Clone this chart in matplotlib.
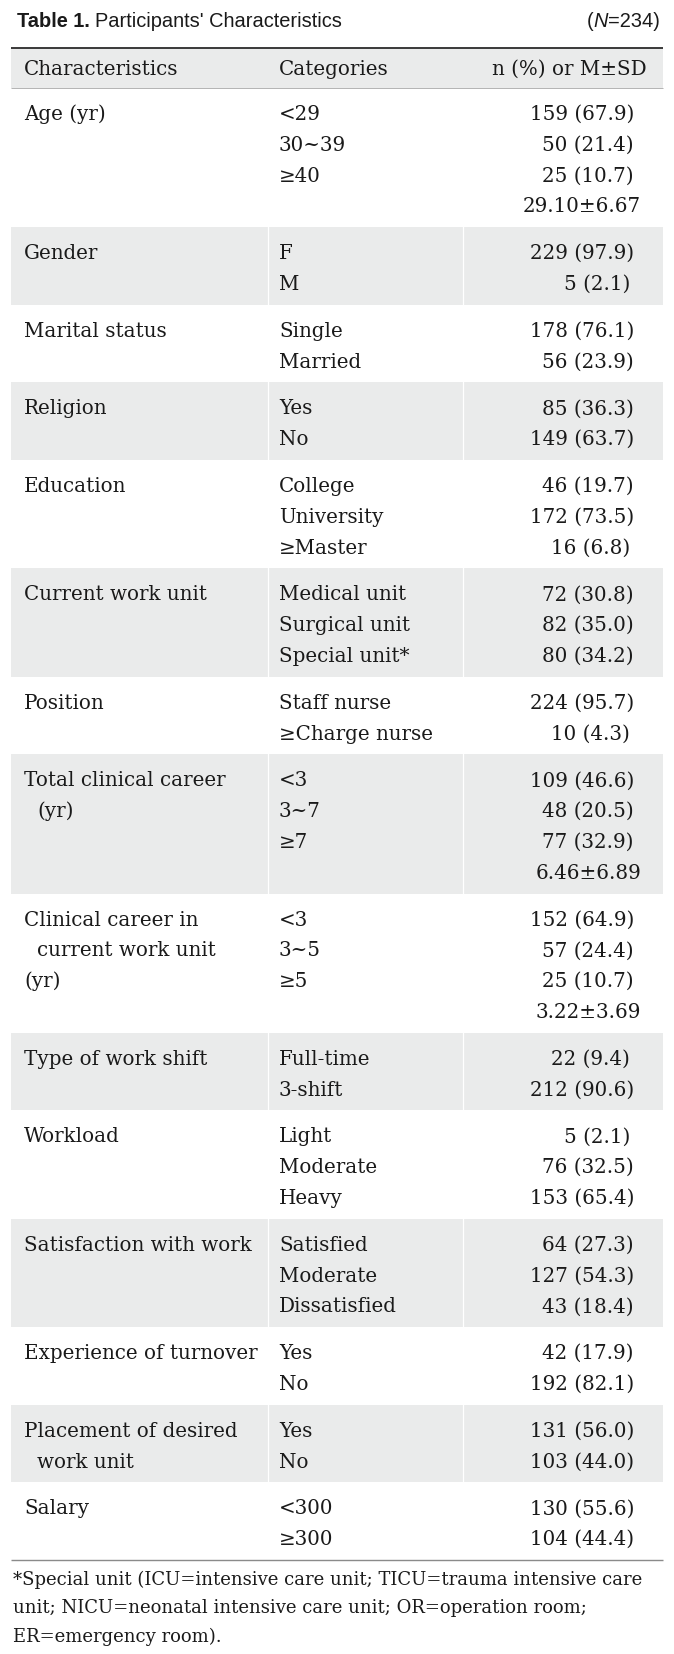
import matplotlib
matplotlib.use("Agg")
import matplotlib.pyplot as plt
from matplotlib import font_manager as fm

# ---------------- data ----------------
title_bold = "Table 1."
title_text = "Participants' Characteristics"
sample_size = "234"
headers = ["Characteristics", "Categories", "n (%) or M\u00b1SD"]

characteristics = [
    ["Age (yr)"], ["Gender"], ["Marital status"], ["Religion"], ["Education"],
    ["Current work unit"], ["Position"], ["Total clinical career", "(yr)"],
    ["Clinical career in", "current work unit", "(yr)"], ["Type of work shift"],
    ["Workload"], ["Satisfaction with work"], ["Experience of turnover"],
    ["Placement of desired", "work unit"], ["Salary"],
]
categories = [
    ["<29", "30~39", "\u226540"],
    ["F", "M"],
    ["Single", "Married"],
    ["Yes", "No"],
    ["College", "University", "\u2265Master"],
    ["Medical unit", "Surgical unit", "Special unit*"],
    ["Staff nurse", "\u2265Charge nurse"],
    ["<3", "3~7", "\u22657"],
    ["<3", "3~5", "\u22655"],
    ["Full-time", "3-shift"],
    ["Light", "Moderate", "Heavy"],
    ["Satisfied", "Moderate", "Dissatisfied"],
    ["Yes", "No"],
    ["Yes", "No"],
    ["<300", "\u2265300"],
]
counts = [
    [159, 50, 25], [229, 5], [178, 56], [85, 149], [46, 172, 16],
    [72, 82, 80], [224, 10], [109, 48, 77], [152, 57, 25], [22, 212],
    [5, 76, 153], [64, 127, 43], [42, 192], [131, 103], [130, 104],
]
percents = [
    [67.9, 21.4, 10.7], [97.9, 2.1], [76.1, 23.9], [36.3, 63.7], [19.7, 73.5, 6.8],
    [30.8, 35.0, 34.2], [95.7, 4.3], [46.6, 20.5, 32.9], [64.9, 24.4, 10.7], [9.4, 90.6],
    [2.1, 32.5, 65.4], [27.3, 54.3, 18.4], [17.9, 82.1], [56.0, 44.0], [55.6, 44.4],
]
mean_sd = [
    "29.10\u00b16.67", None, None, None, None, None, None, "6.46\u00b16.89",
    "3.22\u00b13.69", None, None, None, None, None, None,
]
footnote = ["*Special unit (ICU=intensive care unit; TICU=trauma intensive care",
            "unit; NICU=neonatal intensive care unit; OR=operation room;",
            "ER=emergency room)."]

# ---------------- layout / style ----------------
W, H = 674, 1654
DPI = 100
BODY = "DejaVu Serif"
BODY_SIZE = 14.3
FOOT_SIZE = 13.0
TXT = "#1a1a1a"
GRAY = "#eaebeb"

def has_font(name):
    try:
        fm.findfont(fm.FontProperties(family=name), fallback_to_default=False)
        return True
    except Exception:
        return False

TITLE_FONT = "Liberation Sans Narrow" if has_font("Liberation Sans Narrow") else "Liberation Sans"

fig = plt.figure(figsize=(W / DPI, H / DPI), dpi=DPI)
ax = fig.add_axes([0, 0, 1, 1])
ax.set_xlim(0, W)
ax.set_ylim(H, 0)
ax.axis("off")
renderer = fig.canvas.get_renderer()

def px(v):  # pixel -> points for line widths
    return v * 72.0 / DPI

def runs(x, y, parts, ha="left", measure_only=False):
    objs, widths = [], []
    for s, kw in parts:
        t = ax.text(0, y, s, va="baseline", ha="left", color=TXT, **kw)
        widths.append(t.get_window_extent(renderer).width)
        objs.append(t)
    if measure_only:
        for t in objs:
            t.remove()
        return sum(widths)
    start = x if ha == "left" else x - sum(widths)
    for t, w in zip(objs, widths):
        t.set_x(start)
        start += w
    return sum(widths)

# title: fit font size to the reference title width
TITLE_W = 328
base_size = 14.0
tkw = dict(family=[TITLE_FONT, "DejaVu Sans"], fontsize=base_size)
w0 = runs(0, 0, [(title_bold + " ", dict(tkw, weight="bold")), (title_text, tkw)], measure_only=True)
tsize = base_size * TITLE_W / w0
tkw = dict(family=[TITLE_FONT, "DejaVu Sans"], fontsize=tsize)
title_base = 27
runs(17, title_base, [(title_bold + " ", dict(tkw, weight="bold")), (title_text, tkw)])
runs(660, title_base, [("(", tkw), ("N", dict(tkw, style="italic")), ("=" + sample_size + ")", tkw)], ha="right")

LEFT, RIGHT = 11, 663
TOP = 48
HEAD_BOT = 88
COL1, COL2 = 24, 279
VAL_R = 634
MSD_R = 641
SEP = [268, 463]
LINE = 30.8
PAD = 16
FIRST = 25
BASE_OFF = 7
INDENT = 13

bkw = dict(family=BODY, fontsize=BODY_SIZE)

# header band
ax.add_patch(plt.Rectangle((LEFT, TOP), RIGHT - LEFT, HEAD_BOT - TOP, color=GRAY, lw=0, zorder=0))
ax.plot([LEFT, RIGHT], [TOP, TOP], color="#2a2a2a", lw=px(1.8), solid_capstyle="butt")
ax.plot([LEFT, RIGHT], [HEAD_BOT, HEAD_BOT], color="#b5b5b5", lw=px(1.0), solid_capstyle="butt")
hb = 68 + BASE_OFF
ax.text(COL1, hb, headers[0], va="baseline", ha="left", color=TXT, **bkw)
ax.text(COL2, hb, headers[1], va="baseline", ha="left", color=TXT, **bkw)
ax.text(647, hb, headers[2], va="baseline", ha="right", color=TXT, **bkw)

y = HEAD_BOT
for i, cats in enumerate(categories):
    n = len(cats) + (1 if mean_sd[i] else 0)
    n = max(n, len(characteristics[i]))
    h = n * LINE + PAD
    if i % 2 == 1:
        ax.add_patch(plt.Rectangle((LEFT, y), RIGHT - LEFT, h, color=GRAY, lw=0, zorder=0))
        for sx in SEP:
            ax.plot([sx, sx], [y, y + h], color="white", lw=px(1.2), zorder=1)
    for k, lab in enumerate(characteristics[i]):
        ind = INDENT if k == 1 else 0
        ax.text(COL1 + ind, y + FIRST + k * LINE + BASE_OFF, lab, va="baseline", ha="left", color=TXT, **bkw)
    for k, c in enumerate(cats):
        yy = y + FIRST + k * LINE + BASE_OFF
        ax.text(COL2, yy, c, va="baseline", ha="left", color=TXT, **bkw)
        p = percents[i][k]
        r = VAL_R if p >= 10 else VAL_R - 4
        ax.text(r, yy, f"{counts[i][k]} ({p:.1f})", va="baseline", ha="right", color=TXT, **bkw)
    if mean_sd[i]:
        yy = y + FIRST + len(cats) * LINE + BASE_OFF
        ax.text(MSD_R, yy, mean_sd[i], va="baseline", ha="right", color=TXT, **bkw)
    y += h

ax.plot([LEFT, RIGHT], [y, y], color="#8a8a8a", lw=px(1.4), solid_capstyle="butt")

fy = y + 25
for k, line in enumerate(footnote):
    ax.text(13, fy + k * 28.5, line, va="baseline", ha="left", color=TXT, family=BODY, fontsize=FOOT_SIZE)

fig.savefig("out.png", dpi=DPI)
